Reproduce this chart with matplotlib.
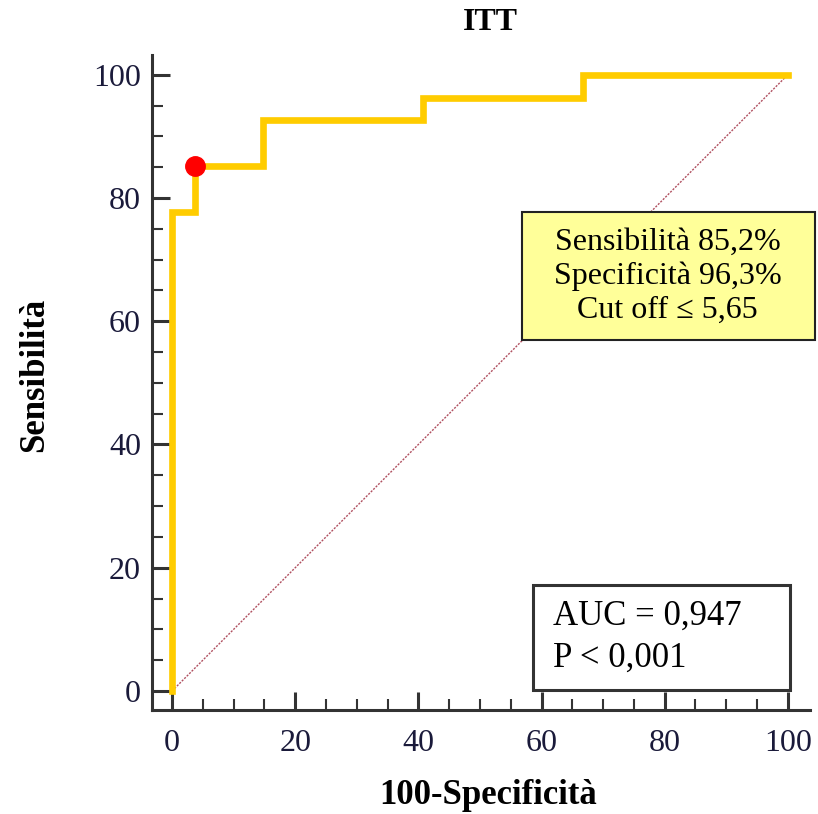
import matplotlib.pyplot as plt
from matplotlib.patches import Rectangle
from matplotlib.ticker import MultipleLocator

plt.rcParams['font.family'] = ['Liberation Serif', 'DejaVu Serif']

# ROC step curve (27 positives / 27 negatives)
fpr = [0, 0, 3.7, 3.7, 14.8, 14.8, 40.7, 40.7, 66.7, 66.7, 100]
tpr = [0, 77.8, 77.8, 85.2, 85.2, 92.6, 92.6, 96.3, 96.3, 100, 100]
cut_fpr = 3.7
cut_tpr = 85.2
info_lines = ["Sensibilità 85,2%", "Specificità 96,3%", "Cut off \u2264 5,65"]
auc_lines = ["AUC = 0,947", "P < 0,001"]

W, H = 818, 814
fig = plt.figure(figsize=(W / 100, H / 100), dpi=100)
ax = fig.add_axes([152 / W, 1 - 710 / H, (810 - 152) / W, (710 - 55) / H])

ax.set_xlim(-3.25, 103.6)
ax.set_ylim(-3.08, 103.2)

def px(x, y):
    # pixel -> data
    return (x - 172) / 6.16, (691 - y) / 6.16

ax.plot([0, 100], [0, 100], color='#b05060', lw=1, linestyle=(0, (1.5, 1)), zorder=2)
ax.plot(fpr, tpr, color='#FFCC00', lw=4.8, solid_joinstyle='miter', zorder=3)
ax.plot([cut_fpr], [cut_tpr], 'o', color='#FF0000', markersize=14, zorder=4)

for s in ['top', 'right']:
    ax.spines[s].set_visible(False)
for s in ['left', 'bottom']:
    ax.spines[s].set_linewidth(2.2)
    ax.spines[s].set_color('#333333')

ax.xaxis.set_major_locator(MultipleLocator(20))
ax.xaxis.set_minor_locator(MultipleLocator(5))
ax.yaxis.set_major_locator(MultipleLocator(20))
ax.yaxis.set_minor_locator(MultipleLocator(5))
ax.tick_params(which='major', direction='in', length=13, width=2.2, color='#333333',
               labelsize=23)
ax.tick_params(which='minor', direction='in', length=8, width=1.5, color='#333333')
ax.tick_params(axis='x', which='major', pad=14)
ax.tick_params(axis='y', which='major', pad=8)
for lab in ax.get_xticklabels() + ax.get_yticklabels():
    lab.set_color('#1a1a3a')

# yellow info box
x0, y0 = px(522, 340)
x1, y1 = px(815, 212)
ax.add_patch(Rectangle((x0, y0), x1 - x0, y1 - y0, facecolor='#FFFF99',
                       edgecolor='#222222', lw=1.5, zorder=5, clip_on=False))
for i, line in enumerate(info_lines):
    tx, ty = px(668, 243 + i * 33.5)
    ax.text(tx, ty, line, ha='center', va='center', fontsize=23, zorder=6)

# AUC box
x0, y0 = px(533, 690)
x1, y1 = px(790, 585)
ax.add_patch(Rectangle((x0, y0), x1 - x0, y1 - y0, facecolor='white',
                       edgecolor='#333333', lw=2.2, zorder=5, clip_on=False))
for i, line in enumerate(auc_lines):
    tx, ty = px(553, 616 + i * 42)
    ax.text(tx, ty, line, ha='left', va='center', fontsize=25, zorder=6)

fig.text(490 / W, 1 - 22 / H, 'ITT', ha='center', va='center', fontsize=23, fontweight='bold')
fig.text(488 / W, 1 - 796 / H, '100-Specificità', ha='center', va='center',
         fontsize=25, fontweight='bold')
fig.text(35 / W, 1 - 375 / H, 'Sensibilità', ha='center', va='center', rotation=90,
         fontsize=25, fontweight='bold')

fig.savefig('out.png', dpi=100)
